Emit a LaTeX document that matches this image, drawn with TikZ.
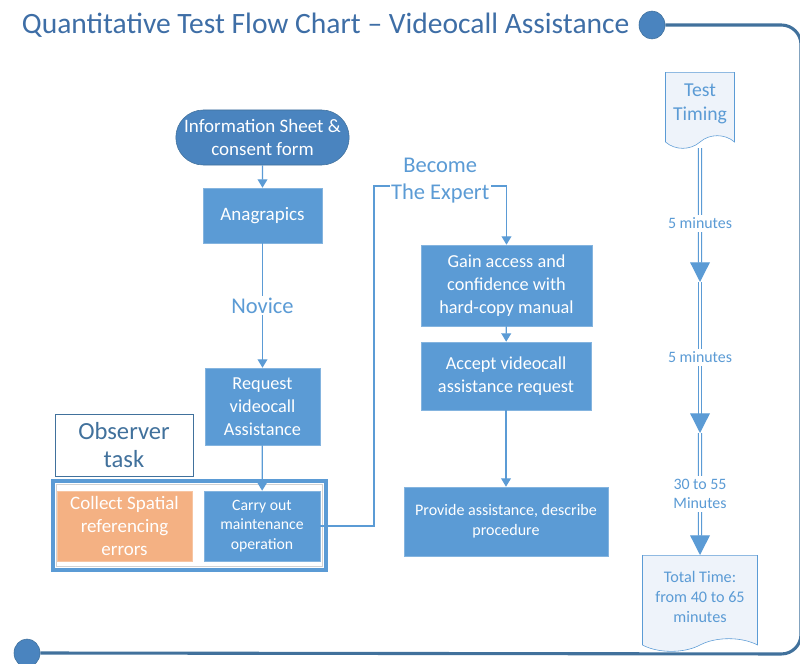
\documentclass[tikz,border=0pt]{standalone}
\usepackage{fontspec}
\setmainfont{Carlito}
\usetikzlibrary{arrows.meta,shapes,calc}
\definecolor{boxblue}{HTML}{5B9BD5}
\definecolor{darkblue}{HTML}{41719C}
\definecolor{termblue}{HTML}{4A84BF}
\definecolor{titleblue}{HTML}{3E6EA6}
\definecolor{orangebox}{HTML}{F4B183}
\definecolor{paleblue}{HTML}{EEF3FA}

\begin{document}
\begin{tikzpicture}[x=0.025cm,y=-0.025cm,
	box/.style={rectangle, fill=boxblue, draw=boxblue!75!white, text=white, align=center, inner sep=1pt, font=\fontsize{13}{16.5}\selectfont},
	term/.style={rounded rectangle, fill=termblue, draw=darkblue, text=white, align=center, inner sep=1pt, font=\fontsize{13.5}{16.5}\selectfont},
	flow/.style={boxblue, line width=0.9pt, -{Triangle[width=7pt,length=6pt]}},
	lbl/.style={fill=white, text=boxblue, align=center, inner sep=1pt, font=\fontsize{16}{19}\selectfont},
	tlbl/.style={fill=white, text=boxblue, align=center, inner sep=2pt, font=\fontsize{11.3}{14}\selectfont},
	timing/.style={draw=boxblue, double=white, double distance=1.1pt, line width=0.9pt, -{Triangle[width=14pt,length=14pt]}},
	doc/.style={tape, tape bend top=none, tape bend height=9pt, draw=boxblue, fill=paleblue, text=boxblue, align=center},
	frameline/.style={darkblue, line width=2.2pt, rounded corners=14pt}]

	\useasboundingbox (0,0) rectangle (800,663);

	% title and frame
	\node[anchor=west, text=titleblue, font=\fontsize{21}{25}\selectfont] (title) at (17,25) {Quantitative Test Flow Chart – Videocall Assistance};
	\node[ellipse, fill=termblue, draw=darkblue, minimum width=0.65cm, minimum height=0.7cm, inner sep=0pt] (dot1) at (652,25) {};
	\node[ellipse, fill=termblue, draw=darkblue, minimum width=0.65cm, minimum height=0.7cm, inner sep=0pt] (dot2) at (27,653) {};
	\draw[frameline] (dot1.east) -- (801,25) -- (801,654) -- (dot2.east);

	% novice side
	\node[term, minimum width=4.325cm, minimum height=1.375cm] (b1) at (262.5,137.5) {Information Sheet \&\\consent form};
	\node[box, minimum width=2.975cm, minimum height=1.375cm, font=\fontsize{13.5}{16.5}\selectfont] (b2) at (262.5,215.5) {Anagrapics};
	\node[box, minimum width=2.875cm, minimum height=1.925cm] (b3) at (262.5,406.5) {Request\\videocall\\Assistance};

	\node[rectangle, draw=darkblue, fill=white, text=darkblue, align=center, minimum width=3.45cm, minimum height=1.55cm, inner sep=1pt, font=\fontsize{17.5}{20}\selectfont] (b4) at (124,445) {Observer\\task};

	\node[rectangle, draw=boxblue, line width=2.4pt, minimum width=6.825cm, minimum height=2.225cm] (f1) at (189.5,525.5) {};
	\draw[gray!35] ($(f1.south west)+(5,-5)$) rectangle ($(f1.north east)+(-5,5)$);

	\node[box, fill=orangebox, draw=orangebox!75!white, minimum width=3.375cm, minimum height=1.75cm, font=\fontsize{13.5}{16.5}\selectfont] (b5) at (124.5,526) {Collect Spatial\\referencing\\errors};
	\node[box, minimum width=2.9cm, minimum height=1.75cm, font=\fontsize{11.2}{14}\selectfont] (b6) at (262,526) {Carry out\\maintenance\\operation};

	% expert side
	\node[box, minimum width=4.275cm, minimum height=2.025cm] (b7) at (506.5,285.5) {Gain access and\\confidence with\\hard-copy manual};
	\node[box, minimum width=4.25cm, minimum height=1.7cm] (b8) at (506,376) {Accept videocall\\assistance request};
	\node[box, minimum width=5.1cm, minimum height=1.725cm, font=\fontsize{11.4}{14}\selectfont] (b9) at (506,521.5) {Provide assistance, describe\\procedure};

	\coordinate (e1) at (374,186);

	\draw[flow] (b1) -- (b2);
	\draw[flow] (b2) -- node[lbl] {Novice} (b3);
	\draw[flow] (b3) -- (b6);
	\draw[flow] (b6.east) -| (e1) -| node[pos=0.25, lbl, yshift=4pt] {Become\\The Expert} (b7.north);
	\draw[flow] (b7) -- (b8);
	\draw[flow] (b8) -- (b9);

	% timing
	\node[doc, minimum width=1.725cm, minimum height=1.9cm, font=\fontsize{14}{17}\selectfont] (t1) at (700,104) {Test\\Timing};
	\coordinate (t2) at (700,282);
	\coordinate (t3) at (700,433);
	\node[doc, minimum width=2.875cm, minimum height=2.4cm, font=\fontsize{11.5}{14}\selectfont] (t4) at (700,597) {Total Time:\\from 40 to 65\\minutes};

	\draw[timing, shorten <=4pt] (t1) -- node[tlbl, pos=0.58] {5 minutes} (t2);
	\draw[timing] (t2) -- node[tlbl] {5 minutes} (t3);
	\draw[timing] (t3) -- node[tlbl] {30 to 55\\Minutes} (t4);
\end{tikzpicture}
\end{document}
